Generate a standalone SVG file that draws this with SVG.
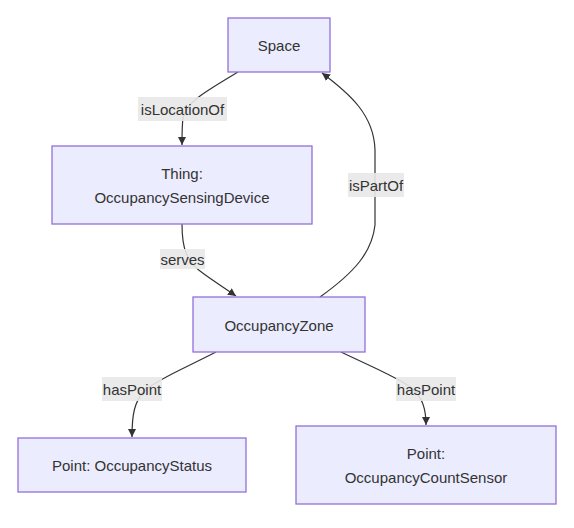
<svg xmlns="http://www.w3.org/2000/svg" width="574" height="528" viewBox="0 0 574 528">
<defs>
<marker id="arrow" viewBox="0 0 10 10" refX="10" refY="5" markerWidth="8" markerHeight="8" markerUnits="userSpaceOnUse" orient="auto">
<path d="M0,0 L10,5 L0,10 z" fill="#333"/>
</marker>
</defs>
<style>
.node rect{fill:#ECECFF;stroke:#9370DB;stroke-width:1.3}
.node text{font-family:"Liberation Sans",Arial,sans-serif;font-size:15px;fill:#333;text-anchor:middle;dominant-baseline:central}
.edge{fill:none;stroke:#333;stroke-width:1.2;marker-end:url(#arrow)}
.lbl rect{fill:#e8e8e8;opacity:0.9}
.lbl text{font-family:"Liberation Sans",Arial,sans-serif;font-size:15px;fill:#333;text-anchor:middle;dominant-baseline:central}
</style>
<rect width="574" height="528" fill="#fff"/>
<g id="connectors">
<path class="edge" d="M238,72 C205,92 186,102 183,118 C182,125 182,135 182,145"/>
<path class="edge" d="M182,224 C182,248 186,262 204,274 C215,282 226,289 236,296"/>
<path class="edge" d="M320,297 C355,272 372,252 375,225 L375,150 C374,115 350,94 322,73"/>
<path class="edge" d="M216,352 C185,368 160,378 145,390 C134,402 132,415 132,437"/>
<path class="edge" d="M341,352 C370,366 395,376 412,388 C423,398 426,410 426,425"/>
<g class="lbl"><rect x="138" y="97" width="89" height="24"/><text x="182.5" y="109">isLocationOf</text></g>
<g class="lbl"><rect x="160" y="249" width="45" height="20"/><text x="182.5" y="259">serves</text></g>
<g class="lbl"><rect x="348" y="173" width="56" height="24"/><text x="376" y="185">isPartOf</text></g>
<g class="lbl"><rect x="102" y="377" width="60" height="24"/><text x="132" y="389">hasPoint</text></g>
<g class="lbl"><rect x="396" y="377" width="60" height="24"/><text x="426" y="389">hasPoint</text></g>
</g>
<g id="space" class="node"><rect x="228" y="18" width="102" height="54"/><text x="279" y="45">Space</text></g>
<g id="thing" class="node"><rect x="52" y="146" width="260" height="78"/><text x="182" y="173">Thing:</text><text x="182" y="197">OccupancySensingDevice</text></g>
<g id="zone" class="node"><rect x="193" y="297" width="172" height="55"/><text x="279" y="325">OccupancyZone</text></g>
<g id="status" class="node"><rect x="18" y="438" width="228" height="54"/><text x="132" y="465">Point: OccupancyStatus</text></g>
<g id="count" class="node"><rect x="296" y="426" width="260" height="78"/><text x="426" y="453">Point:</text><text x="426" y="477">OccupancyCountSensor</text></g>
</svg>
